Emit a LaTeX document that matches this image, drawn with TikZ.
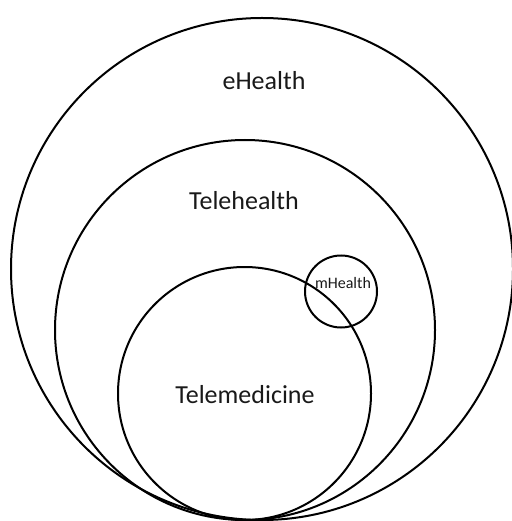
\documentclass[tikz,border=0pt]{standalone}
\usepackage{fontspec}
\setmainfont{Carlito}
\begin{document}
\begin{tikzpicture}[x=1pt,y=-1pt,
  ring/.style={draw=black,line width=2pt,circle,inner sep=0pt},
  big/.style={font=\fontsize{26}{30}\selectfont,text=black!90},
  small/.style={font=\fontsize{16}{18}\selectfont,text=black!90}]
\useasboundingbox (0,0) rectangle (511,521);
\node[ring,minimum size=502pt] (ehealth) at (262,269) {};
\node[ring,minimum size=380pt] (telehealth) at (245,330) {};
\node[ring,minimum size=253pt] (telemed) at (244.5,393.5) {};
\node[ring,minimum size=72pt] (mhealth) at (341,291.5) {};
\node[big] (ehealthlabel) at (264,81) {eHealth};
\node[big] (telehealthlabel) at (244,200.5) {Telehealth};
\node[big] (telemedlabel) at (245,394.5) {Telemedicine};
\node[small] (mhealthlabel) at (343,283.5) {mHealth};
\end{tikzpicture}
\end{document}
